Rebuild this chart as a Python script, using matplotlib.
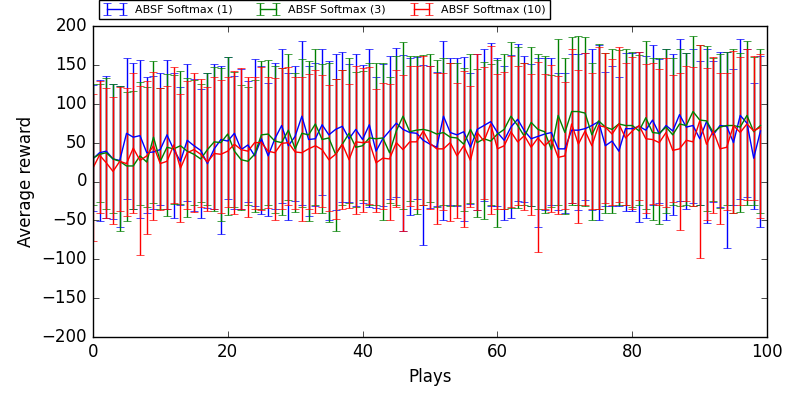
import numpy as np
import matplotlib
matplotlib.use('Agg')
import matplotlib.pyplot as plt

# 데이터
plays = np.arange(100)
labels = ['ABSF Softmax (1)', 'ABSF Softmax (3)', 'ABSF Softmax (10)']

mean_1 = [29, 37, 39, 29, 27, 62, 57, 59, 37, 38, 41, 60, 41, 26, 53, 46, 40, 23, 42, 54,
          52, 62, 41, 47, 33, 55, 33, 55, 72, 46, 58, 84, 54, 55, 73, 60, 67, 71, 55, 67,
          54, 73, 39, 55, 65, 75, 67, 63, 62, 53, 48, 44, 84, 63, 60, 64, 44, 67, 72, 77,
          63, 53, 70, 80, 65, 55, 58, 61, 63, 42, 42, 66, 66, 68, 72, 77, 46, 52, 39, 68,
          68, 71, 66, 79, 61, 72, 65, 86, 70, 72, 55, 77, 60, 72, 71, 50, 85, 75, 30, 65]
upper_1 = [124, 130, 136, 126, 123, 159, 152, 156, 135, 136, 139, 156, 139, 122, 151, 132, 119, 140, 151, 148,
           160, 136, 145, 129, 157, 149, 127, 152, 170, 139, 148, 181, 149, 152, 170, 155, 164, 167, 151, 164,
           150, 170, 135, 151, 162, 172, 163, 159, 160, 150, 148, 141, 181, 159, 159, 160, 139, 164, 170, 178,
           159, 149, 163, 177, 162, 151, 159, 159, 159, 139, 139, 164, 164, 165, 171, 175, 141, 148, 135, 165,
           165, 167, 161, 176, 157, 170, 164, 183, 165, 171, 155, 170, 155, 167, 166, 145, 183, 171, 127, 162]
lower_1 = [-38, -51, -47, -48, -59, -22, -35, -47, -40, -36, -30, -36, -47, -30, -25, -38, -47, -34, -36, -67,
           -22, -35, -35, -26, -32, -42, -44, -35, -28, -49, -25, -30, -44, -31, -17, -50, -37, -27, -26, -31,
           -28, -33, -34, -32, -22, -20, -64, -43, -22, -82, -34, -32, -50, -30, -32, -51, -29, -37, -25, -32,
           -31, -50, -47, -25, -26, -32, -59, -37, -30, -37, -41, -28, -37, -24, -37, -50, -32, -32, -32, -38,
           -38, -52, -47, -30, -28, -50, -43, -25, -35, -28, -30, -54, -27, -33, -85, -30, -22, -20, -35, -58]

mean_3 = [30, 35, 37, 29, 26, 20, 20, 33, 25, 57, 26, 44, 42, 46, 39, 35, 29, 41, 51, 50,
          61, 39, 28, 26, 35, 60, 61, 52, 50, 66, 42, 62, 60, 74, 54, 56, 35, 48, 62, 44,
          46, 56, 55, 56, 37, 65, 84, 64, 66, 67, 65, 61, 63, 57, 56, 48, 67, 50, 55, 52,
          61, 67, 84, 72, 58, 76, 67, 64, 41, 85, 63, 90, 90, 88, 60, 78, 70, 67, 74, 72,
          72, 65, 82, 63, 62, 70, 60, 74, 72, 90, 79, 78, 63, 70, 72, 72, 70, 85, 64, 72]
upper_3 = [125, 126, 133, 126, 123, 115, 116, 128, 122, 155, 120, 138, 137, 142, 133, 130, 125, 139, 147, 146,
           160, 141, 124, 122, 130, 155, 156, 148, 146, 164, 139, 157, 155, 171, 151, 153, 132, 143, 159, 141,
           142, 153, 152, 153, 135, 161, 180, 161, 162, 163, 164, 156, 159, 153, 153, 146, 164, 145, 154, 151,
           156, 164, 180, 173, 152, 173, 164, 161, 137, 183, 159, 186, 187, 186, 153, 177, 165, 170, 169, 170,
           167, 163, 181, 159, 159, 171, 159, 170, 165, 187, 175, 174, 159, 164, 167, 170, 165, 181, 160, 170]
lower_3 = [-30, -26, -35, -40, -64, -51, -35, -30, -33, -28, -35, -44, -29, -29, -46, -30, -27, -30, -38, -51,
           -43, -33, -37, -30, -39, -35, -30, -41, -43, -24, -39, -33, -51, -30, -41, -52, -64, -30, -28, -33,
           -24, -30, -30, -49, -28, -30, -35, -25, -42, -30, -27, -33, -30, -32, -30, -38, -28, -46, -48, -30,
           -59, -35, -34, -34, -30, -32, -35, -40, -33, -30, -42, -30, -30, -32, -50, -35, -41, -41, -30, -30,
           -33, -30, -35, -49, -55, -41, -30, -32, -30, -32, -30, -38, -25, -34, -30, -40, -39, -30, -30, -41]

mean_10 = [17, 34, 24, 13, 26, 23, 43, 27, 33, 46, 23, 26, 47, 17, 37, 41, 35, 25, 36, 35,
           39, 48, 41, 39, 50, 50, 39, 37, 49, 50, 38, 37, 42, 46, 41, 28, 35, 48, 28, 51,
           50, 51, 24, 30, 29, 50, 41, 51, 51, 65, 49, 42, 42, 50, 33, 46, 27, 63, 52, 74,
           42, 46, 64, 51, 59, 44, 56, 46, 54, 31, 33, 74, 48, 65, 46, 72, 70, 61, 74, 56,
           65, 72, 55, 54, 50, 63, 40, 42, 53, 51, 78, 48, 65, 42, 44, 72, 63, 74, 65, 70]
upper_10 = [113, 129, 120, 109, 122, 120, 140, 123, 129, 141, 120, 123, 147, 113, 129, 139, 132, 122, 134, 130,
            135, 142, 146, 135, 134, 147, 135, 133, 146, 147, 135, 134, 138, 143, 137, 124, 132, 143, 125, 148,
            146, 147, 119, 127, 125, 143, 137, 148, 148, 162, 148, 139, 139, 153, 127, 142, 123, 164, 147, 174,
            138, 141, 161, 148, 153, 138, 154, 138, 150, 136, 128, 171, 143, 165, 139, 173, 165, 158, 173, 153,
            160, 167, 151, 152, 145, 159, 137, 139, 149, 147, 175, 146, 160, 140, 140, 168, 160, 171, 161, 164]
lower_10 = [-76, -40, -47, -55, -38, -45, -40, -95, -67, -49, -37, -35, -28, -52, -35, -39, -33, -38, -35, -40,
            -33, -42, -35, -46, -35, -37, -34, -50, -35, -30, -35, -51, -35, -41, -33, -38, -48, -35, -34, -42,
            -39, -29, -39, -35, -50, -33, -64, -32, -35, -30, -35, -55, -37, -51, -47, -59, -33, -37, -22, -42,
            -35, -35, -33, -30, -37, -43, -91, -35, -39, -42, -35, -28, -54, -30, -35, -35, -28, -30, -26, -30,
            -35, -24, -41, -29, -30, -33, -26, -62, -25, -31, -98, -49, -40, -55, -37, -41, -30, -24, -24, -47]

series = [(mean_1, lower_1, upper_1, 'b'),
          (mean_3, lower_3, upper_3, 'g'),
          (mean_10, lower_10, upper_10, 'r')]

plt.style.use('classic')

fig = plt.figure(figsize=(8, 4), dpi=100, facecolor='white')
ax = fig.add_axes([0.116, 0.1575, 0.843, 0.7775])

for (m, lo, hi, c), lab in zip(series, labels):
    m = np.array(m, dtype=float)
    err_lo = np.clip(m - np.array(lo), 0, None)
    err_hi = np.clip(np.array(hi) - m, 0, None)
    ax.errorbar(plays, m, yerr=[err_lo, err_hi], color=c, label=lab)

ax.set_xlim(0, 100)
ax.set_ylim(-200, 200)
ax.set_xticks(np.arange(0, 101, 20))
ax.set_yticks(np.arange(-200, 201, 50))
ax.set_xlabel('Plays')
ax.set_ylabel('Average reward')

ax.legend(loc='lower left', bbox_to_anchor=(0.0, 1.0), ncol=3, fontsize=8,
          borderaxespad=0.6, columnspacing=2.2)

fig.savefig('out.png', dpi=100, facecolor='white')
